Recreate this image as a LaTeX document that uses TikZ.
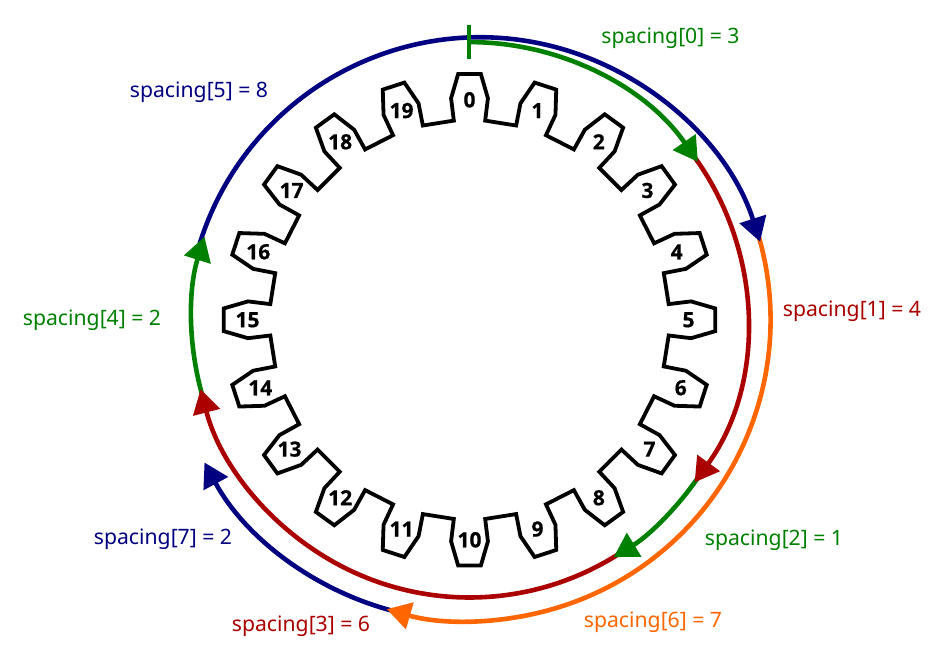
\documentclass[tikz,border=0pt]{standalone}
\usepackage{fontspec}
\setmainfont{Noto Sans}
\newfontfamily\digitfont{Open Sans}[FakeBold=0.6]
\usetikzlibrary{arrows.meta}
\definecolor{sgreen}{RGB}{0,128,0}
\definecolor{snavy}{RGB}{0,0,128}
\definecolor{sred}{RGB}{170,0,0}
\definecolor{sorange}{RGB}{255,102,0}
\tikzset{
  x=1pt,y=1pt,
  toothline/.style={draw=black,line width=3.8pt,miter limit=10,line join=miter},
  toothlabel/.style={font=\digitfont\fontsize{21}{21}\selectfont\bfseries,inner sep=0pt,text=black},
  hop/.style={line width=4.6pt,-{Triangle[length=24pt,width=27pt]}},
  spacinglabel/.style={font=\fontsize{21.2}{21.2}\selectfont,inner sep=0pt,anchor=base}
}
\begin{document}
\begin{tikzpicture}
\path[use as bounding box] (0,0) rectangle (945,661);
\coordinate (C) at (469.5,341.2);
\coordinate (N) at (480.2,329.9);

% Slotted wheel outline
\begin{scope}[shift={(C)}]
\draw[toothline] (94.5:199.8)
  \foreach \k in {0,...,19} {
    \pgfextra{\pgfmathsetmacro{\a}{90-18*\k}}
    -- ({\a+4.5}:199.8) -- ({\a+4.75}:222.3) -- ({\a+2.65}:246) --
       ({\a-2.65}:246) -- ({\a-4.75}:222.3) -- ({\a-4.5}:199.8)
  } -- cycle;
% Tooth numbers, each with its small nudge off the pitch circle
\foreach \k/\dx in {0/0,1/0,2/0,3/0,4/-2,5/-1,6/2,7/2,8/0,9/0,10/0,11/0,12/0,13/-2,14/0,15/-2,16/-2,17/0,18/0,19/0} {
  \node[toothlabel] (t\k) at ([xshift=\dx]{90-18*\k}:220) {\k};
}
\end{scope}

% Hop start points; each one lies just under the head of the hop before it
\coordinate (h0) at ([shift={(C)}]90:277.7);
\coordinate (h1) at ([shift={(C)}]36.5:277.7);
\coordinate (h2) at ([shift={(C)}]-34:277.7);
\coordinate (h3) at ([shift={(C)}]-57:277.7);
\coordinate (h4) at ([shift={(C)}]196.5:277.7);
\coordinate (h5) at ([shift={(N)}]164.5:293.8);
\coordinate (h6) at ([shift={(C)}]17:301);
\coordinate (h7) at ([shift={(C)}]256:301);

% Hops, last one first so each arrow head sits over the next hop's start
\draw[hop,snavy] (h7) arc[start angle=256,end angle=208.3,radius=301pt];
\draw[hop,sorange] (h6) arc[start angle=17,end angle=-105.96,radius=301pt];
\draw[hop,snavy] (h5) arc[start angle=164.5,end angle=17.7,radius=293.8pt];
\draw[hop,sgreen] (h4) arc[start angle=196.5,end angle=162.6,radius=277.7pt];
\draw[hop,sred] (h3) arc[start angle=-57,end angle=-165.54,radius=277.7pt];
\draw[hop,sgreen] (h2) arc[start angle=-34,end angle=-58.74,radius=277.7pt];
\draw[hop,sred] (h1) arc[start angle=36.5,end angle=-35.84,radius=277.7pt];
\draw[hop,sgreen] (h0) arc[start angle=90,end angle=34.68,radius=277.7pt];

% Start marker
\coordinate (markTop) at (469,636);
\coordinate (markBottom) at (469,601.7);
\draw[sgreen,line width=4.6pt] (markTop) -- (markBottom);

% Spacing labels
\node[spacinglabel,text=sgreen] (s0) at (670.5,617) {spacing[0] = 3};
\node[spacinglabel,text=sred] (s1) at (852,344.2) {spacing[1] = 4};
\node[spacinglabel,text=sgreen] (s2) at (774,115) {spacing[2] = 1};
\node[spacinglabel,text=sred] (s3) at (301,29.3) {spacing[3] = 6};
\node[spacinglabel,text=sgreen] (s4) at (92,335) {spacing[4] = 2};
\node[spacinglabel,text=snavy] (s5) at (199,563.3) {spacing[5] = 8};
\node[spacinglabel,text=sorange] (s6) at (653,33) {spacing[6] = 7};
\node[spacinglabel,text=snavy] (s7) at (163,116) {spacing[7] = 2};
\end{tikzpicture}
\end{document}
